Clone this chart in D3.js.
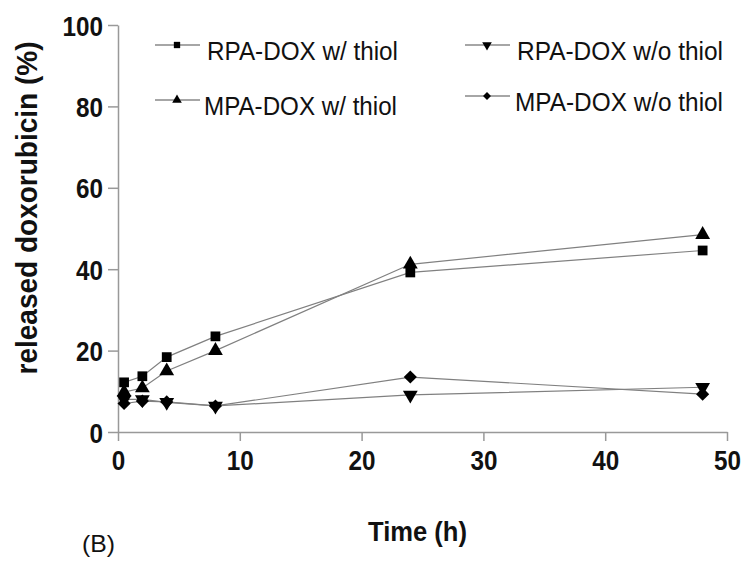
<!DOCTYPE html>
<html><head><meta charset="utf-8">
<script src="https://cdn.jsdelivr.net/npm/d3@7"></script>
<style>body{margin:0;background:#fff}svg{display:block}</style>
</head><body>
<svg id="c" width="745" height="561"></svg>
<script>
const times = [0.5, 2, 4, 8, 24, 48];
const rpaWith = [12.2, 13.7, 18.4, 23.5, 39.2, 44.6];
const mpaWith = [9.8, 10.8, 15.0, 20.0, 41.2, 48.5];
const rpaWithout = [8.0, 8.0, 7.3, 6.4, 9.1, 11.0];
const mpaWithout = [7.0, 7.6, 7.4, 6.4, 13.5, 9.3];
const seriesNames = ["RPA-DOX w/ thiol", "RPA-DOX w/o thiol", "MPA-DOX w/ thiol", "MPA-DOX w/o thiol"];
const xTicks = [0, 10, 20, 30, 40, 50];
const yTicks = [0, 20, 40, 60, 80, 100];

const series = [
  {name: seriesNames[0], vals: rpaWith, sym: d3.symbolSquare, rot: 0},
  {name: seriesNames[1], vals: rpaWithout, sym: d3.symbolTriangle, rot: 180},
  {name: seriesNames[2], vals: mpaWith, sym: d3.symbolTriangle, rot: 0},
  {name: seriesNames[3], vals: mpaWithout, sym: d3.symbolDiamond2, rot: 0}
];

const svg = d3.select("#c");
const x = d3.scaleLinear().domain([0, 50]).range([118, 727]);
const y = d3.scaleLinear().domain([0, 100]).range([432, 25]);
const font = "Arial,'Liberation Sans',sans-serif";

const xa = svg.append("g").attr("transform", "translate(0,432)")
  .call(d3.axisBottom(x).tickValues(xTicks).tickSize(9).tickSizeOuter(0));
const ya = svg.append("g").attr("transform", "translate(118,0)")
  .call(d3.axisLeft(y).tickValues(yTicks).tickSize(10).tickSizeOuter(0));
[xa, ya].forEach(a => {
  a.select(".domain").attr("stroke", "#999").attr("stroke-width", 1.5);
  a.selectAll(".tick line").attr("stroke", "#999").attr("stroke-width", 1.5);
  a.selectAll("text").attr("fill", "#111").style("font-family", font)
    .style("font-weight", "bold").style("font-size", "28px")
    .attr("lengthAdjust", "spacingAndGlyphs")
    .attr("textLength", function() { return this.textContent.length * 13.5; });
});
ya.selectAll("text").attr("dy", "0.36em").attr("x", -15);
xa.selectAll("text").attr("dy", 0).attr("y", 38);

const line = d3.line().x((d, i) => x(times[i])).y(d => y(d));
series.forEach(s => {
  svg.append("path").attr("d", line(s.vals)).attr("fill", "none")
    .attr("stroke", "#808080").attr("stroke-width", 1.2);
});
series.forEach(s => {
  svg.selectAll(null).data(s.vals).enter().append("path")
    .attr("d", d3.symbol().type(s.sym).size(s.sym === d3.symbolDiamond2 ? 110 : 95))
    .attr("transform", (d, i) => `translate(${x(times[i])},${y(d)}) rotate(${s.rot})`)
    .attr("fill", "#000");
});

// legend
const legPos = [[155, 45, 207, 191], [465, 45, 517, 206], [155, 100, 204, 193], [465, 96, 515, 208]];
series.forEach((s, i) => {
  const [lx, ly, tx, tl] = legPos[i];
  svg.append("line").attr("x1", lx).attr("x2", lx + 45).attr("y1", ly).attr("y2", ly)
    .attr("stroke", "#888").attr("stroke-width", 1.3);
  svg.append("path").attr("d", d3.symbol().type(s.sym).size(40))
    .attr("transform", `translate(${lx + 22},${ly}) rotate(${s.rot})`).attr("fill", "#000");
  svg.append("text").attr("x", tx).attr("y", ly + 15)
    .style("font-family", font).style("font-size", "26px")
    .attr("textLength", tl).attr("lengthAdjust", "spacingAndGlyphs")
    .attr("fill", "#111").text(s.name);
});

svg.append("text").attr("transform", "translate(37,208) rotate(-90)")
  .attr("text-anchor", "middle").style("font-family", font)
  .style("font-weight", "bold").style("font-size", "29px").attr("fill", "#111")
  .attr("textLength", 333).attr("lengthAdjust", "spacingAndGlyphs")
  .text("released  doxorubicin  (%)");
svg.append("text").attr("x", 368).attr("y", 541)
  .style("font-family", font).style("font-weight", "bold").style("font-size", "28px")
  .attr("textLength", 99).attr("lengthAdjust", "spacingAndGlyphs")
  .attr("fill", "#111").text("Time (h)");
svg.append("text").attr("x", 82).attr("y", 552)
  .style("font-family", font).style("font-size", "24px")
  .attr("textLength", 33).attr("lengthAdjust", "spacingAndGlyphs")
  .attr("fill", "#111").text("(B)");
</script>
</body></html>
